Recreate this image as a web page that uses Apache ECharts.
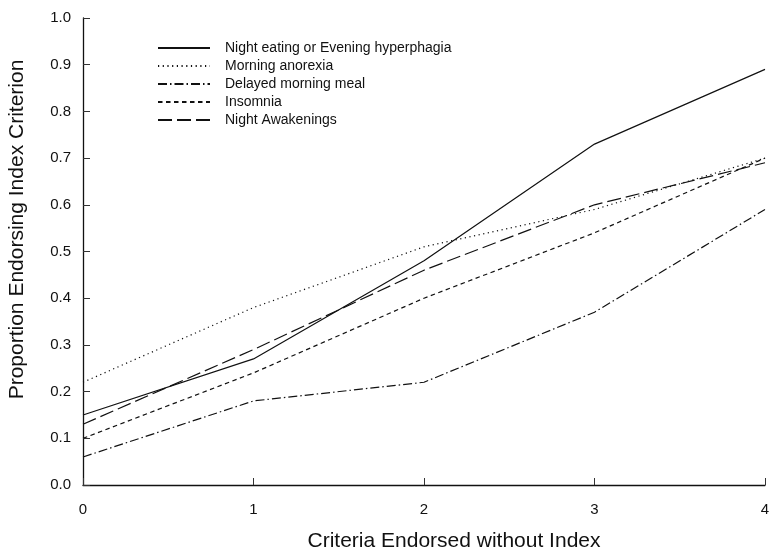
<!DOCTYPE html>
<html><head><meta charset="utf-8">
<script src="https://cdn.jsdelivr.net/npm/echarts@6/dist/echarts.min.js"></script>
<style>html,body{margin:0;padding:0;background:#fff}#c{width:777px;height:558px}</style>
</head><body><div id="c"></div>
<script>
const categories = [0, 1, 2, 3, 4];
const nightEating = [0.15, 0.27, 0.48, 0.73, 0.89];
const morningAnorexia = [0.22, 0.38, 0.51, 0.59, 0.70];
const delayedMeal = [0.06, 0.18, 0.22, 0.37, 0.59];
const insomnia = [0.10, 0.24, 0.40, 0.54, 0.70];
const nightAwakenings = [0.13, 0.29, 0.46, 0.60, 0.69];
const seriesNames = ['Night eating or Evening hyperphagia','Morning anorexia','Delayed morning meal','Insomnia','Night Awakenings'];
const yTicks = ['0.0','0.1','0.2','0.3','0.4','0.5','0.6','0.7','0.8','0.9','1.0'];

const dashes = ['solid', [1.2, 3.5], [9, 3, 1.5, 3], [4.5, 3.5], [14, 5]];
const allData = [nightEating, morningAnorexia, delayedMeal, insomnia, nightAwakenings];
const font = 'Arial, "Liberation Sans", sans-serif';

const chart = echarts.init(document.getElementById('c'));
chart.setOption({
  animation: false,
  grid: {left: 83, right: 12, top: 18, bottom: 73, containLabel: false, outerBoundsMode: 'none'},
  legend: {
    orient: 'vertical', left: 152, top: 36, itemWidth: 52, itemHeight: 10, itemGap: 4,
    itemStyle: {opacity: 0, borderWidth: 0},
    textStyle: {fontFamily: font, fontSize: 14, color: '#111', padding: [0,0,0,10]},
    data: seriesNames
  },
  xAxis: {
    type: 'value', min: 0, max: 4, interval: 1,
    name: 'Criteria Endorsed without Index', nameLocation: 'middle', nameGap: 46,
    nameTextStyle: {fontFamily: font, fontSize: 21, color: '#111', padding: [0,0,0,60]},
    axisLine: {lineStyle: {color: '#111', width: 1.3}},
    axisTick: {inside: true, length: 7, lineStyle: {color: '#333'}},
    axisLabel: {fontFamily: font, fontSize: 15, color: '#111', margin: 17},
    splitLine: {show: false}
  },
  yAxis: {
    type: 'value', min: 0, max: 1, interval: 0.1,
    name: 'Proportion Endorsing Index Criterion', nameLocation: 'middle', nameGap: 55,
    nameTextStyle: {fontFamily: font, fontSize: 21, color: '#111', padding: [0,0,0,44]},
    axisLine: {show: true, lineStyle: {color: '#111', width: 1.3}},
    axisTick: {show: true, inside: true, length: 7, lineStyle: {color: '#333'}},
    axisLabel: {fontFamily: font, fontSize: 15, color: '#111', margin: 12,
      formatter: v => yTicks[Math.round(v * 10)]},
    splitLine: {show: false}
  },
  series: allData.map((d, i) => ({
    name: seriesNames[i], type: 'line', symbol: 'none', showSymbol: false,
    data: d.map((v, j) => [categories[j], v]),
    lineStyle: {color: '#111', width: 1.2, type: dashes[i]},
    itemStyle: {color: '#111'}
  }))
});
</script></body></html>
